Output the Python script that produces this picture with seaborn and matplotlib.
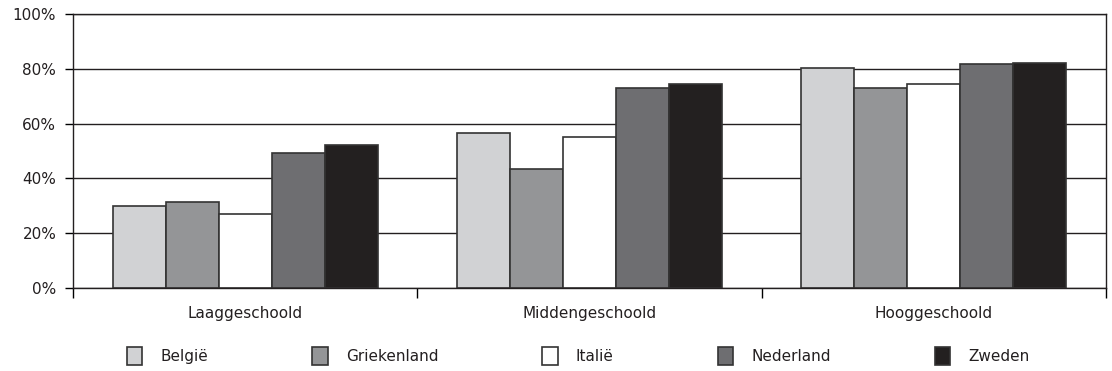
import matplotlib
matplotlib.use("Agg")
import matplotlib.pyplot as plt
from matplotlib.ticker import PercentFormatter, FixedLocator
import seaborn as sns
import pandas as pd

# categories and series (percentages)
levels = ["Laaggeschoold", "Middengeschoold", "Hooggeschoold"]
countries = ["België", "Griekenland", "Italië", "Nederland", "Zweden"]
belgie = [30.0, 56.7, 80.4]
griekenland = [31.5, 43.3, 73.0]
italie = [27.0, 55.2, 74.6]
nederland = [49.3, 73.0, 81.9]
zweden = [52.3, 74.6, 82.0]
colors = ["#d1d2d4", "#939598", "#ffffff", "#6d6e71", "#231f20"]

# build long-form table for seaborn
series = [belgie, griekenland, italie, nederland, zweden]
rows = []
for land, vals in zip(countries, series):
    for lvl, v in zip(levels, vals):
        rows.append({"opleiding": lvl, "land": land, "pct": v})
df = pd.DataFrame(rows)

sns.set_style("white")
plt.rcParams["font.family"] = ["DejaVu Sans"]

fig = plt.figure(figsize=(11.12, 3.71), dpi=100)
ax = fig.add_axes([0.0656, 0.2237, 0.929, 0.7386])

sns.barplot(data=df, x="opleiding", y="pct", hue="land", order=levels,
            hue_order=countries, palette=colors, edgecolor="#333333",
            linewidth=1.2, width=0.77, ax=ax, legend=True)

ax.set_xlim(-0.5, 2.5)
ax.set_ylim(0, 100)
ax.set_yticks([0, 20, 40, 60, 80, 100])
ax.yaxis.set_major_formatter(PercentFormatter(decimals=0))
ax.set_axisbelow(True)
ax.yaxis.grid(True, color="#231f20", linewidth=1)
ax.set_xlabel("")
ax.set_ylabel("")

for s in ax.spines.values():
    s.set_color("#231f20")
    s.set_linewidth(1)

ax.tick_params(axis="y", which="major", direction="out", length=6,
               width=1, color="black", labelsize=11, pad=6, left=True,
               labelcolor="#231f20")
ax.tick_params(axis="x", which="major", length=0, labelsize=11, pad=13,
               labelcolor="#231f20")
ax.xaxis.set_minor_locator(FixedLocator([-0.5, 0.5, 1.5, 2.5]))
ax.tick_params(axis="x", which="minor", direction="out", length=7,
               width=1, color="black", bottom=True)

handles, labels = ax.get_legend_handles_labels()
leg = ax.legend(handles, labels, loc="center", bbox_to_anchor=(0.52, 0.04),
                bbox_transform=fig.transFigure, ncol=5, frameon=False,
                fontsize=11, handlelength=1.0, handleheight=1.45,
                handletextpad=1.2, columnspacing=6.8)
for t in leg.get_texts():
    t.set_color("#231f20")

fig.savefig("out.png", dpi=100)
